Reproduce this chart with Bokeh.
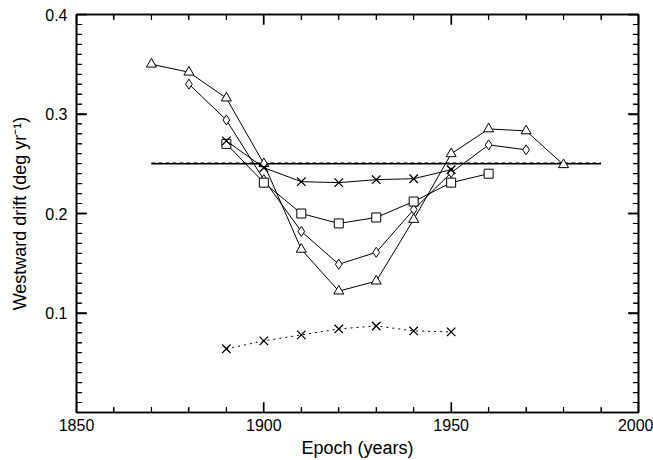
from bokeh.plotting import figure
from bokeh.models import Range1d, FixedTicker, LinearAxis
from bokeh.embed import file_html
from bokeh.resources import INLINE

# data
tri_years = [1870, 1880, 1890, 1900, 1910, 1920, 1930, 1940, 1950, 1960, 1970, 1980]
tri_vals = [0.350, 0.342, 0.316, 0.250, 0.164, 0.122, 0.132, 0.194, 0.260, 0.285, 0.283, 0.249]
dia_years = [1880, 1890, 1900, 1910, 1920, 1930, 1940, 1950, 1960, 1970]
dia_vals = [0.330, 0.294, 0.234, 0.182, 0.149, 0.161, 0.204, 0.241, 0.269, 0.264]
sq_years = [1890, 1900, 1910, 1920, 1930, 1940, 1950, 1960]
sq_vals = [0.270, 0.231, 0.200, 0.190, 0.196, 0.212, 0.231, 0.240]
x_years = [1890, 1900, 1910, 1920, 1930, 1940, 1950]
x_vals = [0.273, 0.246, 0.232, 0.231, 0.234, 0.235, 0.244]
xd_years = [1890, 1900, 1910, 1920, 1930, 1940, 1950]
xd_vals = [0.064, 0.072, 0.078, 0.084, 0.087, 0.082, 0.081]
ref_years = [1870, 1990]
ref_vals = [0.250, 0.250]

x_start, x_end = 1850, 2000
y_start, y_end = 0.0, 0.4
x_major = [1850, 1900, 1950, 2000]
x_minor = [1860, 1870, 1880, 1890, 1910, 1920, 1930, 1940, 1960, 1970, 1980, 1990]
y_major = [0.1, 0.2, 0.3, 0.4]
y_minor = [round(i / 100, 2) for i in range(1, 40) if i % 10 != 0]

FONT = "Liberation Sans"

p = figure(width=653, height=460, output_backend="svg", toolbar_location=None,
           x_range=Range1d(x_start, x_end), y_range=Range1d(y_start, y_end),
           min_border_left=76, min_border_top=14, min_border_right=15, min_border_bottom=47)
p.xgrid.visible = False
p.ygrid.visible = False
p.outline_line_color = "black"
p.outline_line_width = 1.6

def style(ax, ticks, minor, labels=True):
    ax.ticker = FixedTicker(ticks=ticks, minor_ticks=minor)
    ax.major_tick_in = 10
    ax.major_tick_out = 0
    ax.minor_tick_in = 5
    ax.minor_tick_out = 0
    ax.major_tick_line_color = "black"
    ax.minor_tick_line_color = "black"
    ax.major_tick_line_width = 1.3
    ax.minor_tick_line_width = 1.1
    ax.axis_line_color = "black"
    ax.axis_line_width = 1.6
    ax.major_label_text_font = FONT
    ax.major_label_text_font_size = "16px"
    ax.major_label_text_color = "black"
    ax.axis_label_text_font = FONT
    ax.axis_label_text_font_size = "18px"
    ax.axis_label_text_font_style = "normal"
    ax.axis_label_text_color = "black"
    if not labels:
        ax.major_label_text_font_size = "0px"
        ax.major_label_standoff = 0
        ax.major_label_text_color = None

style(p.xaxis[0], x_major, x_minor)
style(p.yaxis[0], y_major, y_minor)
p.xaxis[0].axis_label = "Epoch (years)"
p.yaxis[0].axis_label = "Westward drift (deg yr\u207b\u00b9)"
p.xaxis[0].major_label_standoff = 6
p.xaxis[0].axis_label_standoff = 4
p.yaxis[0].major_label_standoff = 9
p.yaxis[0].axis_label_standoff = 12

top = LinearAxis()
style(top, x_major, x_minor, labels=False)
p.add_layout(top, "above")
right = LinearAxis()
style(right, y_major, y_minor, labels=False)
p.add_layout(right, "right")

# inward ticks also drawn as short glyph segments (tick length as a fraction of the span)
MAJ, MIN = 0.026, 0.014
xlen = x_end - x_start
ylen = y_end - y_start
aspect = 399.0 / 562.0

def xticks(vals, frac, width):
    n = len(vals)
    p.segment(x0=vals, y0=[y_start] * n, x1=vals, y1=[y_start + frac * ylen] * n,
              line_color="black", line_width=width)
    p.segment(x0=vals, y0=[y_end] * n, x1=vals, y1=[y_end - frac * ylen] * n,
              line_color="black", line_width=width)

def yticks(vals, frac, width):
    n = len(vals)
    fx = frac * xlen * aspect
    p.segment(x0=[x_start] * n, y0=vals, x1=[x_start + fx] * n, y1=vals,
              line_color="black", line_width=width)
    p.segment(x0=[x_end] * n, y0=vals, x1=[x_end - fx] * n, y1=vals,
              line_color="black", line_width=width)

xticks(x_minor, MIN, 1.1)
xticks(x_major, MAJ, 1.3)
yticks(y_minor, MIN, 1.1)
yticks(y_major, MAJ, 1.3)

# reference line
p.line(ref_years, ref_vals, line_color="black", line_width=1.3)
p.line(ref_years, [v + 0.0008 for v in ref_vals], line_color="black", line_width=1, line_dash="4 3")

# series
p.line(tri_years, tri_vals, line_color="black", line_width=1)
p.scatter(tri_years, tri_vals, marker="triangle", size=10, line_color="black", fill_color="white", line_width=1)
p.line(dia_years, dia_vals, line_color="black", line_width=1)
p.scatter(dia_years, dia_vals, marker="diamond", size=10, line_color="black", fill_color="white", line_width=1)
p.line(sq_years, sq_vals, line_color="black", line_width=1)
p.scatter(sq_years, sq_vals, marker="square", size=9, line_color="black", fill_color="white", line_width=1)
p.line(x_years, x_vals, line_color="black", line_width=1)
p.scatter(x_years, x_vals, marker="x", size=12, line_color="black", line_width=1.3)
p.line(xd_years, xd_vals, line_color="black", line_width=1, line_dash="2 4")
p.scatter(xd_years, xd_vals, marker="x", size=12, line_color="black", line_width=1.3)

open("out.html", "w").write(file_html(p, INLINE))
